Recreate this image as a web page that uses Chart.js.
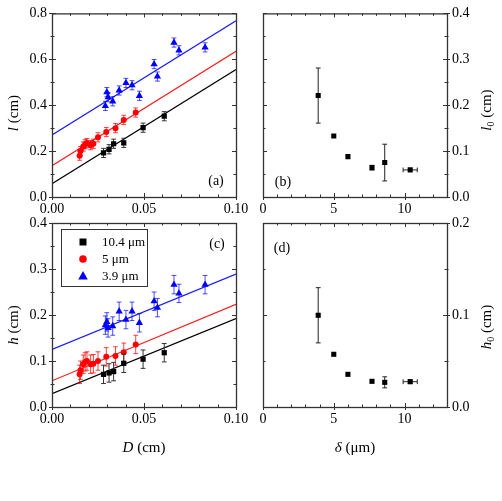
<!DOCTYPE html>
<html lang="en">
<head>
  <meta charset="UTF-8">
  <title>Length and height vs D and delta</title>
  <script src="https://cdn.jsdelivr.net/npm/chart.js@4"></script>
  <style>
    body { margin: 0; background: #fff; }
    #wrap { position: relative; width: 502px; height: 501px; overflow: hidden;
            font-family: "Liberation Serif", "Times New Roman", serif; color: #000; }
    canvas { position: absolute; left: 0; top: 0; }
    .t { position: absolute; white-space: nowrap; font-size: 15px; line-height: 1;
         transform: translate(-50%, -50%); }
    .v { transform: translate(-50%, -50%) rotate(-90deg); }
    .p { font-size: 14px; }
    sub { font-size: 10px; vertical-align: -3px; line-height: 0; }
  </style>
</head>
<body>
  <div id="wrap">
    <canvas id="chartA" width="502" height="501" style="width:502px;height:501px"></canvas>
    <canvas id="chartB" width="502" height="501" style="width:502px;height:501px"></canvas>
    <canvas id="chartC" width="502" height="501" style="width:502px;height:501px"></canvas>
    <canvas id="chartD" width="502" height="501" style="width:502px;height:501px"></canvas>

    <div class="t v" style="left:13px;top:113px"><i>l</i> (cm)</div>
    <div class="t v" style="left:486px;top:110px"><i>l</i><sub>0</sub> (cm)</div>
    <div class="t v" style="left:13px;top:325px"><i>h</i> (cm)</div>
    <div class="t v" style="left:486px;top:327px"><i>h</i><sub>0</sub> (cm)</div>
    <div class="t" style="left:144px;top:447px"><i>D</i> (cm)</div>
    <div class="t" style="left:355px;top:447px"><i>&delta;</i> (&mu;m)</div>

    <div class="t p" style="left:216px;top:181px">(a)</div>
    <div class="t p" style="left:283px;top:182px">(b)</div>
    <div class="t p" style="left:217px;top:244px">(c)</div>
    <div class="t p" style="left:282px;top:248px">(d)</div>
  </div>

  <script>
    // ---- panels (a) and (c): l and h against D (cm) ----
    const D104 = [0.028, 0.031, 0.0335, 0.039, 0.0495, 0.061];
    const l104 = [0.192, 0.208, 0.232, 0.236, 0.302, 0.352];
    const h104 = [0.071, 0.074, 0.077, 0.095, 0.104, 0.118];
    const err104 = [0.02, 0.02, 0.02, 0.02, 0.02, 0.02];

    const D5 = [0.015, 0.0155, 0.017, 0.018, 0.019, 0.021, 0.0225, 0.025, 0.0295, 0.0345, 0.039, 0.0455];
    const l5 = [0.18, 0.20, 0.22, 0.23, 0.235, 0.226, 0.232, 0.26, 0.283, 0.30, 0.336, 0.368];
    const h5 = [0.071, 0.08, 0.093, 0.098, 0.1, 0.093, 0.094, 0.1, 0.109, 0.111, 0.119, 0.136];
    const err5 = [0.02, 0.02, 0.02, 0.02, 0.02, 0.02, 0.02, 0.02, 0.02, 0.02, 0.02, 0.02];

    const D39 = [0.029, 0.0298, 0.0305, 0.033, 0.0365, 0.0402, 0.0435, 0.0475, 0.0555, 0.0573, 0.0663, 0.069, 0.0832];
    const l39 = [0.397, 0.457, 0.435, 0.417, 0.464, 0.497, 0.487, 0.441, 0.579, 0.525, 0.673, 0.639, 0.652];
    const h39 = [0.178, 0.185, 0.172, 0.176, 0.208, 0.19, 0.208, 0.183, 0.23, 0.216, 0.266, 0.247, 0.266];
    const err39 = [0.02, 0.02, 0.02, 0.02, 0.02, 0.02, 0.02, 0.02, 0.02, 0.02, 0.02, 0.02, 0.02];

    // fitted straight lines, value at D = 0 and D = 0.1
    const fitD = [0, 0.1];
    const fitL104 = [0.058, 0.555];
    const fitL5 = [0.136, 0.635];
    const fitL39 = [0.27, 0.768];
    const fitH104 = [0.029, 0.192];
    const fitH5 = [0.057, 0.223];
    const fitH39 = [0.125, 0.289];

    const seriesNames = ['10.4 \u03bcm', '5 \u03bcm', '3.9 \u03bcm'];

    // ---- panels (b) and (d): intercepts against delta (um) ----
    const delta = [3.9, 5.0, 6.0, 7.7, 8.6, 10.4];
    const deltaErr = [0, 0, 0, 0, 0, 0.5];
    const l0 = [0.221, 0.133, 0.088, 0.064, 0.075, 0.059];
    const l0Err = [0.06, 0, 0, 0.005, 0.04, 0];
    const h0 = [0.0997, 0.0573, 0.0355, 0.0279, 0.0268, 0.0275];
    const h0Err = [0.03, 0, 0, 0, 0.006, 0.002];

    Chart.defaults.font.family = '"Liberation Serif", "Times New Roman", serif';
    Chart.defaults.font.size = 14;
    Chart.defaults.color = '#000';

    function pts(xs, ys) {
      return xs.map((x, i) => ({ x: x, y: ys[i] }));
    }

    function isMajor(v, major) {
      const r = v / major;
      return Math.abs(r - Math.round(r)) < 1e-6;
    }

    function axis(min, max, step, major, dec, position, size) {
      return {
        type: 'linear', position: position, min: min, max: max,
        grid: { display: false, drawTicks: false },
        border: { display: false },
        ticks: {
          stepSize: step, padding: position === 'bottom' ? 4 : 5,
          autoSkip: false, maxRotation: 0,
          callback: v => isMajor(v, major) ? v.toFixed(dec) : ''
        },
        afterFit: s => { if (s.isHorizontal()) s.height = size; else s.width = size; }
      };
    }

    function points(xs, ys, yErr, style, radius, color, errColor, label, xErr) {
      return {
        type: 'scatter', label: label, data: pts(xs, ys),
        yErr: yErr, xErr: xErr, errColor: errColor,
        pointStyle: style, pointRadius: radius, backgroundColor: color,
        borderColor: color, borderWidth: 0, order: 1
      };
    }

    function fitLine(ys, color) {
      return {
        type: 'line', data: pts(fitD, ys), borderColor: color, borderWidth: 1.2,
        pointRadius: 0, fill: false, order: 2
      };
    }

    // error bars, drawn just before each dataset's markers
    const errorBars = {
      id: 'errorBars',
      beforeDatasetDraw(chart, args) {
        const ds = chart.data.datasets[args.index];
        if (!ds.yErr && !ds.xErr) return;
        const { ctx } = chart;
        const xs = chart.scales.x, ys = chart.scales.y;
        const cap = 2.4;
        ctx.save();
        ctx.strokeStyle = ds.errColor;
        ctx.lineWidth = 1;
        ctx.beginPath();
        args.meta.data.forEach((el, i) => {
          const p = ds.data[i];
          const ey = ds.yErr ? ds.yErr[i] : 0;
          const ex = ds.xErr ? ds.xErr[i] : 0;
          if (ey > 0) {
            const y1 = ys.getPixelForValue(p.y + ey), y2 = ys.getPixelForValue(p.y - ey);
            ctx.moveTo(el.x, y1); ctx.lineTo(el.x, y2);
            ctx.moveTo(el.x - cap, y1); ctx.lineTo(el.x + cap, y1);
            ctx.moveTo(el.x - cap, y2); ctx.lineTo(el.x + cap, y2);
          }
          if (ex > 0) {
            const x1 = xs.getPixelForValue(p.x - ex), x2 = xs.getPixelForValue(p.x + ex);
            ctx.moveTo(x1, el.y); ctx.lineTo(x2, el.y);
            ctx.moveTo(x1, el.y - cap); ctx.lineTo(x1, el.y + cap);
            ctx.moveTo(x2, el.y - cap); ctx.lineTo(x2, el.y + cap);
          }
        });
        ctx.stroke();
        ctx.restore();
      }
    };

    // box frame with inward ticks on all four sides
    const frameTicks = {
      id: 'frameTicks',
      afterDraw(chart) {
        const { ctx, chartArea: a } = chart;
        const xs = chart.scales.x, ys = chart.scales.y;
        const labelsRight = ys.position === 'right';
        ctx.save();
        ctx.strokeStyle = '#333';
        ctx.lineWidth = 1;
        ctx.beginPath();
        xs.ticks.forEach(t => {
          const px = Math.round(xs.getPixelForValue(t.value)) + 0.5;
          const major = t.label !== '';
          const len = major ? 4 : 2.5;
          ctx.moveTo(px, a.bottom + (major ? 3 : 0)); ctx.lineTo(px, a.bottom - len);
          ctx.moveTo(px, a.top); ctx.lineTo(px, a.top + len);
        });
        ys.ticks.forEach(t => {
          const py = Math.round(ys.getPixelForValue(t.value)) + 0.5;
          const major = t.label !== '';
          const len = major ? 4 : 2.5;
          const out = major ? 3 : 1.5;
          ctx.moveTo(a.left - (labelsRight ? 0 : out), py); ctx.lineTo(a.left + len, py);
          ctx.moveTo(a.right + (labelsRight ? out : 0), py); ctx.lineTo(a.right - len, py);
        });
        ctx.stroke();
        ctx.lineWidth = 1.3;
        ctx.strokeRect(a.left + 0.5, a.top + 0.5, a.right - a.left, a.bottom - a.top);
        ctx.restore();
      }
    };

    // boxed legend in the upper left of panel (c)
    const legendBox = {
      id: 'legendBox',
      afterDraw(chart) {
        const { ctx, chartArea: a } = chart;
        const items = chart.data.datasets.filter(d => d.label);
        const bx = a.left + 9, by = a.top + 6;
        ctx.save();
        ctx.strokeStyle = '#333';
        ctx.lineWidth = 1;
        ctx.strokeRect(bx + 0.5, by + 0.5, 86, 57);
        ctx.font = '13px "Liberation Serif", "Times New Roman", serif';
        ctx.textBaseline = 'middle';
        items.forEach((d, i) => {
          const mx = bx + 22, my = by + 13 + i * 17;
          ctx.fillStyle = d.backgroundColor;
          ctx.beginPath();
          if (d.pointStyle === 'rect') {
            ctx.rect(mx - 3.5, my - 3.5, 7, 7);
          } else if (d.pointStyle === 'circle') {
            ctx.arc(mx, my, 3.8, 0, Math.PI * 2);
          } else {
            ctx.moveTo(mx, my - 5); ctx.lineTo(mx + 4.8, my + 3.5); ctx.lineTo(mx - 4.8, my + 3.5);
            ctx.closePath();
          }
          ctx.fill();
          ctx.fillStyle = '#000';
          ctx.fillText(d.label, bx + 41, my + 1);
        });
        ctx.restore();
      }
    };

    function makeChart(id, datasets, xAxis, yAxis, padding, extra) {
      return new Chart(document.getElementById(id), {
        type: 'scatter',
        data: { datasets: datasets },
        options: {
          responsive: false,
          animation: false,
          layout: { padding: padding },
          scales: { x: xAxis, y: yAxis },
          plugins: { legend: { display: false }, tooltip: { enabled: false } }
        },
        plugins: [errorBars, frameTicks].concat(extra || [])
      });
    }

    // (a)
    makeChart('chartA', [
      fitLine(fitL104, '#000'),
      fitLine(fitL5, '#ff1a1a'),
      fitLine(fitL39, '#1a1aff'),
      points(D104, l104, err104, 'rect', 3.7, '#000', '#333'),
      points(D5, l5, err5, 'circle', 3, '#ff0000', 'rgba(255,0,0,0.75)'),
      points(D39, l39, err39, 'triangle', 4.2, '#0000ff', 'rgba(0,0,255,0.7)')
    ],
      axis(0, 0.1, 0.01, 0.05, 2, 'bottom', 30),
      axis(0, 0.8, 0.1, 0.2, 1, 'left', 52),
      { left: 0, top: 13, right: 266, bottom: 274 });

    // (b)
    makeChart('chartB', [
      points(delta, l0, l0Err, 'rect', 3.6, '#000', '#222', null, deltaErr)
    ],
      axis(0, 13, 1, 5, 0, 'bottom', 30),
      axis(0, 0.4, 0.05, 0.1, 1, 'right', 55),
      { left: 263, top: 13, right: 0, bottom: 274 });

    // (c)
    makeChart('chartC', [
      fitLine(fitH104, '#000'),
      fitLine(fitH5, '#ff1a1a'),
      fitLine(fitH39, '#1a1aff'),
      points(D104, h104, err104, 'rect', 3.7, '#000', '#333', seriesNames[0]),
      points(D5, h5, err5, 'circle', 3, '#ff0000', 'rgba(255,0,0,0.75)', seriesNames[1]),
      points(D39, h39, err39, 'triangle', 4.2, '#0000ff', 'rgba(0,0,255,0.7)', seriesNames[2])
    ],
      axis(0, 0.1, 0.01, 0.05, 2, 'bottom', 30),
      axis(0, 0.4, 0.05, 0.1, 1, 'left', 52),
      { left: 0, top: 223, right: 266, bottom: 64 },
      [legendBox]);

    // (d)
    makeChart('chartD', [
      points(delta, h0, h0Err, 'rect', 3.6, '#000', '#222', null, deltaErr)
    ],
      axis(0, 13, 1, 5, 0, 'bottom', 30),
      axis(0, 0.2, 0.05, 0.1, 1, 'right', 55),
      { left: 263, top: 223, right: 0, bottom: 64 });
  </script>
</body>
</html>
